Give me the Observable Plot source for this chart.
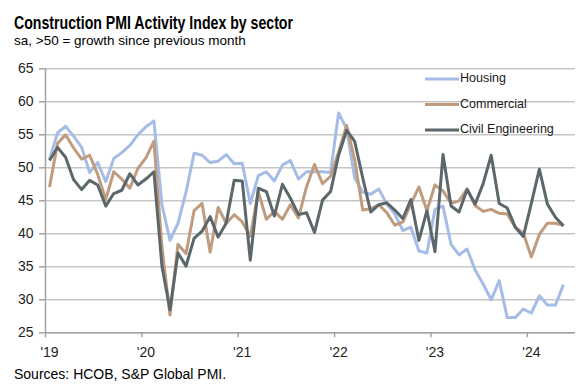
<!DOCTYPE html>
<html><head><meta charset="utf-8">
<script src="https://cdn.jsdelivr.net/npm/d3@7"></script>
<script src="https://cdn.jsdelivr.net/npm/@observablehq/plot@0.6"></script>
<style>
body{margin:0;background:#fff;font-family:"Liberation Sans",Arial,sans-serif;}
#wrap{position:relative;width:587px;height:392px;overflow:hidden;background:#fff;}
.t{position:absolute;left:14px;white-space:nowrap;transform-origin:0 0;color:#000;line-height:1;}
#title{top:14.5px;font-size:17.5px;font-weight:bold;}
#sub{top:34px;font-size:13.5px;}
#foot{top:367px;font-size:14px;}
#chart{position:absolute;left:0;top:50px;}
#legend{position:absolute;left:0;top:0;width:587px;height:392px;pointer-events:none;}
#legend .lt{position:absolute;left:460px;font-size:12.5px;line-height:1;color:#1a1a1a;white-space:nowrap;}
</style></head><body>
<div id="wrap">
<div id="title" class="t">Construction PMI Activity Index by sector</div>
<div id="sub" class="t">sa, &gt;50 = growth since previous month</div>
<div id="chart"></div>
<div id="legend"></div>
<div id="foot" class="t">Sources: HCOB, S&amp;P Global PMI.</div>
</div>
<script>
// Monthly readings, Jan 2019 - May 2024
const startYear = 2019;
const housing = [
  51.3,55.3,56.3,54.8,53.1,49.3,50.8,47.9,51.4,52.3,53.4,55.0,
  56.2,57.1,44.4,39.0,41.6,46.3,52.2,51.9,50.8,51.0,52.0,50.6,
  50.7,44.6,48.8,49.4,48.0,50.4,51.1,48.3,49.4,49.4,49.4,49.3,
  58.3,55.9,48.5,46.3,46.0,46.8,44.5,43.0,40.5,41.0,37.4,37.1,
  43.7,44.2,38.4,36.8,37.7,34.5,32.4,30.0,32.9,27.3,27.3,28.6,
  28.0,30.6,29.2,29.2,32.3
];
const commercial = [
  47.1,53.7,55.0,53.0,51.3,51.9,49.0,45.2,49.4,48.3,46.9,49.9,
  51.5,54.0,38.0,27.7,38.4,37.0,43.5,44.6,37.2,44.0,41.6,42.9,
  41.8,39.6,46.4,42.2,43.4,42.2,44.4,42.4,47.1,50.5,47.6,48.7,
  52.4,56.4,51.2,43.6,43.8,44.4,43.2,41.3,41.8,44.5,47.1,43.5,
  47.4,46.5,44.6,45.0,46.8,44.3,43.4,43.7,43.1,43.0,41.0,40.1,
  36.5,39.9,41.6,41.6,41.3
];
const civil = [
  51.1,53.1,51.6,48.2,46.7,48.1,47.4,44.2,46.1,46.6,49.1,47.4,
  48.3,49.4,35.1,28.5,37.1,35.1,39.3,40.4,42.6,39.5,41.6,48.1,
  48.0,36.0,46.9,46.4,42.7,47.5,45.4,42.9,43.2,40.2,45.1,46.4,
  51.9,55.7,54.0,48.5,43.3,44.4,44.7,43.6,42.3,45.2,39.0,43.5,
  37.3,52.0,44.2,43.3,46.7,44.5,47.6,51.9,44.6,43.9,41.0,39.6,
  44.6,49.8,44.5,42.5,41.2
];
const seriesNames = ["Housing", "Commercial", "Civil Engineering"];
const seriesColors = ["#a5bde6", "#bf9c7e", "#5c676b"];
const yearLabels = ["'19", "'20", "'21", "'22", "'23", "'24"];
const yTicks = [25, 30, 35, 40, 45, 50, 55, 60, 65];

const seriesValues = [housing, commercial, civil];
const data = [];
seriesValues.forEach((vals, s) => vals.forEach((v, i) => data.push({series: seriesNames[s], m: i + 0.5, value: v})));
const yearStarts = yearLabels.map((_, k) => k * 12);

const axisColor = "#a3a3a3";
const chart = Plot.plot({
  width: 587, height: 315,
  marginLeft: 45, marginRight: 12, marginTop: 18.3, marginBottom: 32.7,
  style: {fontFamily: "'Liberation Sans', Arial, sans-serif", fontSize: "14px", color: "#1e1e1e", background: "#fff", overflow: "visible"},
  x: {type: "linear", domain: [0, 66]},
  y: {domain: [25, 65]},
  color: {domain: seriesNames, range: seriesColors},
  marks: [
    Plot.gridY(yTicks, {stroke: "#c6c6c6", strokeOpacity: 1, strokeWidth: 1.5}),
    Plot.axisY(yTicks, {tickSize: 6, tickPadding: 6, stroke: axisColor, strokeWidth: 1.5, label: null, fontSize: 14}),
    Plot.axisX(yearStarts, {tickSize: 5, tickFormat: () => "", stroke: axisColor, strokeWidth: 1.5, label: null}),
    Plot.axisX(yearStarts.map(d => d + 0.5), {tickSize: 0, tickPadding: 14, tickFormat: d => yearLabels[Math.round((d - 0.5) / 12)], label: null, fontSize: 14}),
    Plot.ruleX([0], {stroke: axisColor, strokeWidth: 1.5}),
    Plot.ruleY([25], {stroke: axisColor, strokeWidth: 1.5}),
    Plot.line(data, {x: "m", y: "value", stroke: "series", z: "series", strokeWidth: 3, strokeLinejoin: "round", strokeLinecap: "butt"})
  ]
});
document.getElementById("chart").appendChild(chart);

// Legend (inside plot area, top right)
const legend = document.getElementById("legend");
const legendY = [79, 104.5, 130];
let svgNS = "http://www.w3.org/2000/svg";
const lsvg = document.createElementNS(svgNS, "svg");
lsvg.setAttribute("width", 587); lsvg.setAttribute("height", 392);
lsvg.style.position = "absolute"; lsvg.style.left = "0"; lsvg.style.top = "0";
seriesNames.forEach((name, k) => {
  const ln = document.createElementNS(svgNS, "line");
  ln.setAttribute("x1", 425); ln.setAttribute("x2", 459);
  ln.setAttribute("y1", legendY[k]); ln.setAttribute("y2", legendY[k]);
  ln.setAttribute("stroke", seriesColors[k]); ln.setAttribute("stroke-width", 3);
  lsvg.appendChild(ln);
  const t = document.createElement("div");
  t.className = "lt"; t.textContent = name;
  t.style.top = (legendY[k] - 7) + "px";
  legend.appendChild(t);
});
legend.appendChild(lsvg);

function fit() {
  const el = document.getElementById("title");
  el.style.transform = "none";
  const w = el.getBoundingClientRect().width;
  if (w > 0) el.style.transform = `scaleX(${279 / w})`;
}
fit();
if (document.fonts && document.fonts.ready) document.fonts.ready.then(fit);
</script>
</body></html>
